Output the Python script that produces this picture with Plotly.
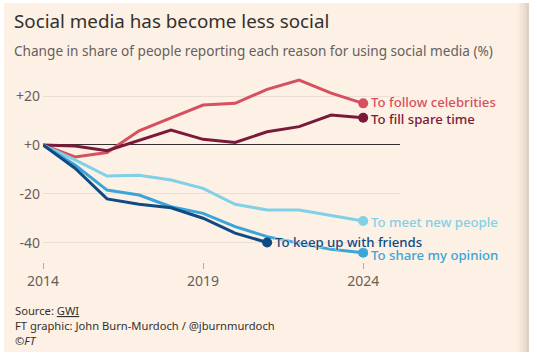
import plotly.graph_objects as go

years = list(range(2014, 2025))
celebrities = [0, -4.9, -3.1, 5.8, 11.1, 16.3, 17.0, 22.7, 26.5, 21.2, 17.0]
spare_time = [0, -0.4, -2.3, 2.0, 6.1, 2.3, 1.0, 5.4, 7.5, 12.2, 11.1]
meet_people = [0, -6.1, -12.7, -12.4, -14.3, -17.7, -24.2, -26.5, -26.5, -28.6, -31.0]
share_opinion = [0, -8.2, -18.4, -20.4, -25.2, -27.9, -33.3, -37.4, -40.1, -42.6, -44.0]
keep_up_years = list(range(2014, 2022))
keep_up = [0, -9.5, -22.0, -24.2, -25.6, -29.9, -36.0, -39.8]

y_tickvals = [-40, -20, 0, 20]
y_ticktext = ["-40", "-20", "+0", "+20"]
x_tickvals = [2014, 2019, 2024]

series = [
    ("To follow celebrities", years, celebrities, "#d6505f", 1),
    ("To fill spare time", years, spare_time, "#7a1a3a", -1),
    ("To meet new people", years, meet_people, "#80d0e8", -1),
    ("To share my opinion", years, share_opinion, "#3aa5d9", -2),
    ("To keep up with friends", keep_up_years, keep_up, "#0f4a85", 1),
]

W, H = 537, 357
L, R, T, B = 43, 400, 75, 262
FONT = "Noto Sans"
BG = "#fdf0e5"

fig = go.Figure()
for name, xs, ys, col, ys_shift in series:
    fig.add_trace(go.Scatter(x=xs, y=ys, mode="lines", line=dict(color=col, width=3),
                             hoverinfo="skip", showlegend=False))
    fig.add_trace(go.Scatter(x=[xs[-1]], y=[ys[-1]], mode="markers",
                             marker=dict(color=col, size=10), hoverinfo="skip", showlegend=False))
    fig.add_annotation(x=xs[-1], y=ys[-1], text=name, showarrow=False, xanchor="left",
                       yanchor="middle", xshift=7, yshift=ys_shift, borderpad=0,
                       font=dict(family=FONT, size=13.2, color=col, weight=500,
                                 shadow=f"0 0 2px {BG}, 0 0 2px {BG}, 0 0 3px {BG}"))


def px(x):
    return (x - L) / (R - L)


def py(y):
    return (B - y) / (B - T)


texts = [
    ("Social media has become less social", 13, 21, 18.8, "#33302e"),
    ("Change in share of people reporting each reason for using social media (%)", 13, 51, 13.6, "#66605c"),
    ("Source: <u>GWI</u>", 14, 310, 11.2, "#33302e"),
    ("FT graphic: John Burn-Murdoch / @jburnmurdoch", 14, 325, 11.2, "#33302e"),
    ("<i>©FT</i>", 14, 340, 11.2, "#33302e"),
]
for t, x, y, s, c in texts:
    fig.add_annotation(xref="paper", yref="paper", x=px(x), y=py(y), text=t, showarrow=False,
                       xanchor="left", yanchor="middle", borderpad=0,
                       font=dict(family=FONT, size=s, color=c))

# page background frame
fig.add_shape(type="rect", xref="paper", yref="paper", x0=px(4), x1=px(529), y0=py(352), y1=py(3),
              fillcolor=BG, line=dict(width=0), layer="below")
for i, op in enumerate([0.03, 0.05, 0.08, 0.12]):
    fig.add_shape(type="rect", xref="paper", yref="paper", x0=px(517 + 3 * i), x1=px(529),
                  y0=py(352), y1=py(3), fillcolor="#8a7a6a", opacity=op, line=dict(width=0), layer="below")

fig.update_layout(
    width=W, height=H,
    margin=dict(l=L, r=W - R, t=T, b=H - B),
    paper_bgcolor="white", plot_bgcolor="rgba(0,0,0,0)",
    font=dict(family=FONT, color="#66605c"),
)
fig.update_xaxes(range=[2014, 2025.15], tickvals=x_tickvals, ticks="outside", ticklen=6,
                 tickcolor="#b5aaa0", tickwidth=1, showgrid=False, zeroline=False, showline=False,
                 tickfont=dict(size=14, color="#66605c"))
fig.update_yaxes(range=[-47.76, 28.57], tickvals=y_tickvals, ticktext=y_ticktext, showgrid=True,
                 gridcolor="#eadfd4", gridwidth=1, zeroline=True, zerolinecolor="#33302e",
                 zerolinewidth=1.3, showline=False, ticks="", ticklabelstandoff=2,
                 tickfont=dict(size=14, color="#66605c"))

fig.write_html("out.html", config={"displayModeBar": False},
               post_script="document.body.style.margin='0';document.body.style.overflow='hidden';")
